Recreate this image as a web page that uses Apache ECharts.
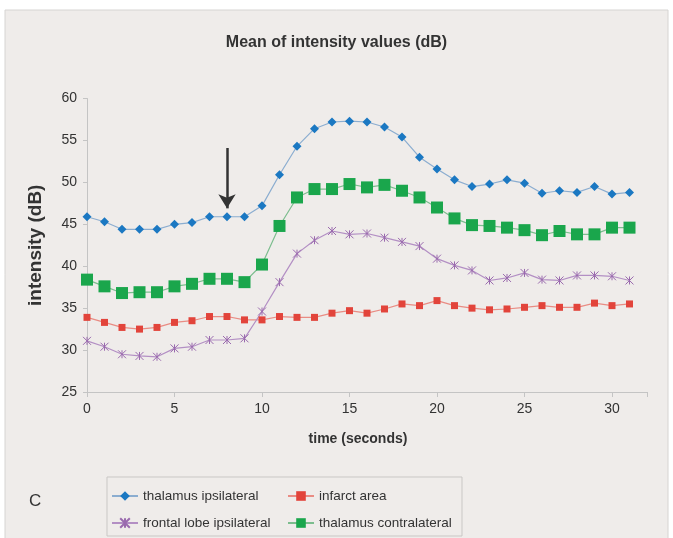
<!DOCTYPE html>
<html><head><meta charset="utf-8">
<script src="https://cdn.jsdelivr.net/npm/echarts@6/dist/echarts.min.js"></script>
<style>html,body{margin:0;padding:0;background:#fff}#c{width:673px;height:538px}</style>
</head><body><div id="c"></div>
<script>
const time = [0,1,2,3,4,5,6,7,8,9,10,11,12,13,14,15,16,17,18,19,20,21,22,23,24,25,26,27,28,29,30,31];
const thalamusIpsi = [45.9,45.3,44.4,44.4,44.4,45.0,45.2,45.9,45.9,45.9,47.2,50.9,54.3,56.4,57.2,57.3,57.2,56.6,55.4,53.0,51.6,50.3,49.5,49.8,50.3,49.9,48.7,49.0,48.8,49.5,48.6,48.8];
const infarct = [33.9,33.3,32.7,32.5,32.7,33.3,33.5,34.0,34.0,33.6,33.6,34.0,33.9,33.9,34.4,34.7,34.4,34.9,35.5,35.3,35.9,35.3,35.0,34.8,34.9,35.1,35.3,35.1,35.1,35.6,35.3,35.5];
const frontalIpsi = [31.1,30.4,29.5,29.3,29.2,30.2,30.4,31.2,31.2,31.4,34.6,38.1,41.5,43.1,44.2,43.8,43.9,43.4,42.9,42.4,40.9,40.1,39.5,38.3,38.6,39.2,38.4,38.3,38.9,38.9,38.8,38.3];
const thalamusContra = [38.4,37.6,36.8,36.9,36.9,37.6,37.9,38.5,38.5,38.1,40.2,44.8,48.2,49.2,49.2,49.8,49.4,49.7,49.0,48.2,47.0,45.7,44.9,44.8,44.6,44.3,43.7,44.2,43.8,43.8,44.6,44.6];
const seriesNames = ['thalamus ipsilateral','infarct area','frontal lobe ipsilateral','thalamus contralateral'];
const arrowX = 8, arrowTop = 54.1, arrowTip = 46.9;

const zip = v => time.map((t,i)=>[t,v[i]]);
const FONT = "'Liberation Sans', Arial, sans-serif";
const chart = echarts.init(document.getElementById('c'));
chart.setOption({
  animation:false,
  backgroundColor:'#ffffff',
  textStyle:{fontFamily:FONT},
  graphic:[
    {type:'rect', z:-10, shape:{x:5,y:10,width:663,height:530}, style:{fill:'#efecea', stroke:'#d6d4d2', lineWidth:1}},
    {type:'rect', z:-5, shape:{x:107,y:477,width:355,height:59}, style:{fill:'#efecea', stroke:'#c9c7c5', lineWidth:1}}
  ],
  title:[
    {text:'Mean of intensity values (dB)', left:'center', top:30, textStyle:{fontSize:16, fontWeight:'bold', color:'#333', fontFamily:FONT}},
    {text:'C', left:24, top:488, textStyle:{fontSize:17, fontWeight:'normal', color:'#333', fontFamily:FONT}}
  ],
  grid:{left:87, right:26, top:98.5, bottom:146},
  xAxis:{type:'value', min:0, max:32, interval:5,
    name:'time (seconds)', nameLocation:'middle', nameGap:40,
    nameTextStyle:{fontSize:14, fontWeight:'bold', color:'#333', padding:[0,18,0,0]},
    axisLine:{lineStyle:{color:'#c4c4c4'}}, axisTick:{show:true, length:5, lineStyle:{color:'#c4c4c4'}},
    axisLabel:{fontSize:14, color:'#333', margin:10, formatter:v=> (v%5===0 && v<=30) ? String(v) : ''},
    splitLine:{show:false}},
  yAxis:{type:'value', min:25, max:60, interval:5,
    name:'intensity (dB)', nameLocation:'middle', nameGap:42,
    nameTextStyle:{fontSize:19, fontWeight:'bold', color:'#333'},
    axisLine:{show:true, lineStyle:{color:'#c4c4c4'}}, axisTick:{show:true, length:4, lineStyle:{color:'#c4c4c4'}},
    axisLabel:{fontSize:14, color:'#333', margin:10},
    splitLine:{show:false}},
  legend:[
    {data:[seriesNames[0], seriesNames[2]], orient:'vertical', left:106, top:484, height:60, padding:5, itemWidth:26, itemHeight:12, itemGap:13,
      textStyle:{fontSize:13.5, color:'#333', fontFamily:FONT}},
    {data:[seriesNames[1], seriesNames[3]], orient:'vertical', left:282, top:484, height:60, padding:5, itemWidth:26, itemHeight:12, itemGap:13,
      textStyle:{fontSize:13.5, color:'#333', fontFamily:FONT}}
  ],
  series:[
    {name:seriesNames[0], type:'line', data:zip(thalamusIpsi), symbol:'diamond', symbolSize:9,
      itemStyle:{color:'#1b78c2'}, lineStyle:{color:'#8badd0', width:1.2},
      markLine:{silent:true, symbol:['none','arrow'], symbolSize:[13,14], label:{show:false},
        lineStyle:{color:'#333', width:2.5, type:'solid'},
        data:[[{coord:[arrowX, arrowTop]},{coord:[arrowX, arrowTip]}]]}},
    {name:seriesNames[1], type:'line', data:zip(infarct), symbol:'rect', symbolSize:7,
      itemStyle:{color:'#e2443b'}, lineStyle:{color:'#e98c84', width:1.2}},
    {name:seriesNames[2], type:'line', data:zip(frontalIpsi), symbol:'path://M0,0L10,10M10,0L0,10M5,0L5,10', symbolSize:8,
      itemStyle:{color:'#9a6aae', borderColor:'#9a6aae', borderWidth:1}, lineStyle:{color:'#b38fc4', width:1.2}},
    {name:seriesNames[3], type:'line', data:zip(thalamusContra), symbol:'rect', symbolSize:12,
      itemStyle:{color:'#1aa64c'}, lineStyle:{color:'#7cbd8e', width:1.2}}
  ]
});
</script></body></html>
